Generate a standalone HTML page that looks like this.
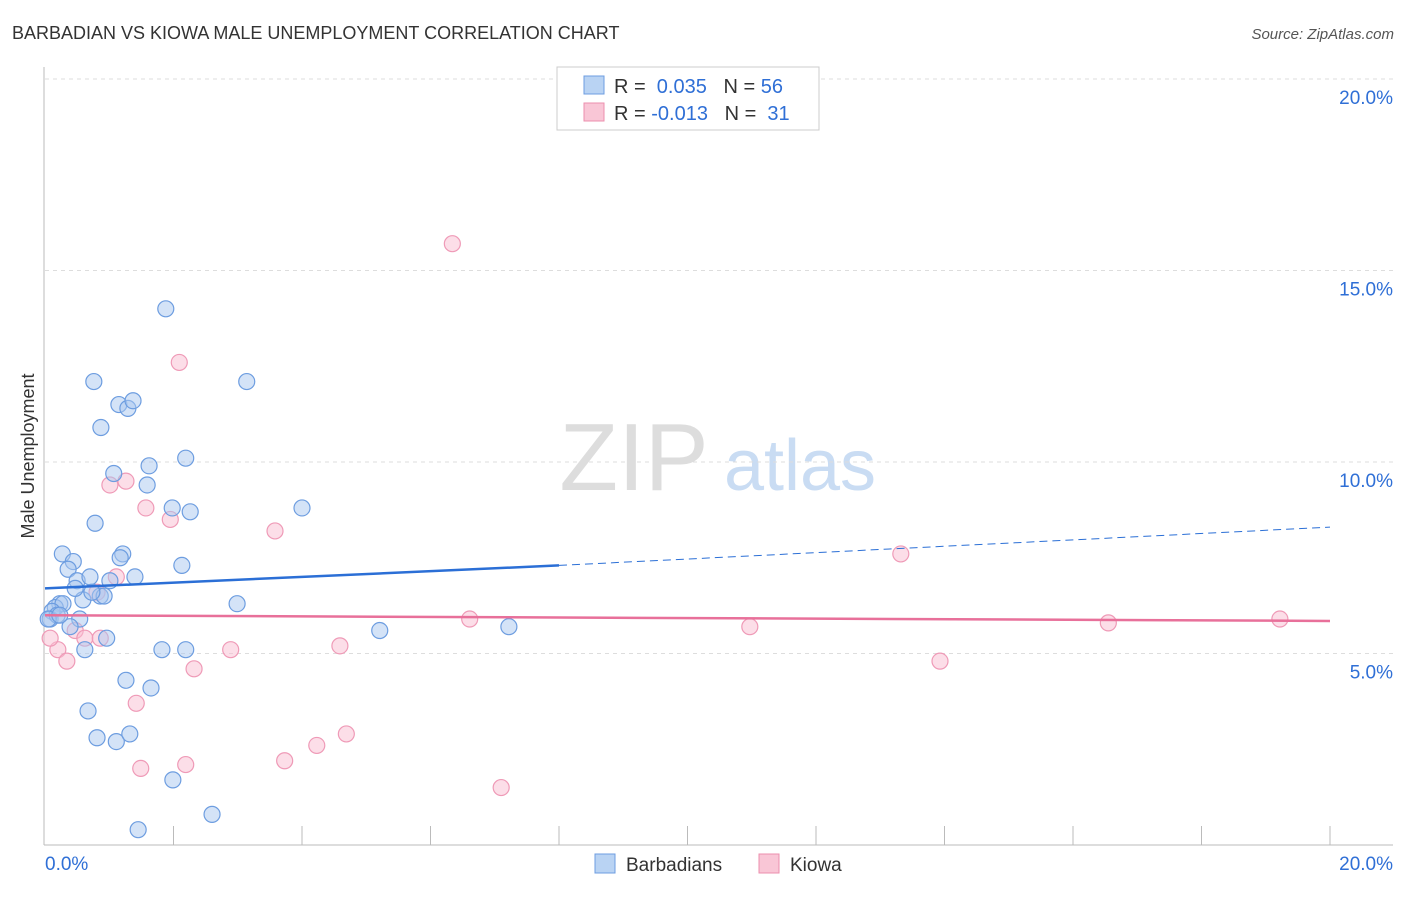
<!DOCTYPE html>
<html><head><meta charset="utf-8"><style>
body{margin:0;background:#fff;font-family:"Liberation Sans",sans-serif}
svg text{font-family:"Liberation Sans",sans-serif}
</style></head><body>
<svg id="chart" width="1406" height="892" xmlns="http://www.w3.org/2000/svg">
<text x="12" y="39" font-size="18" fill="#333">BARBADIAN VS KIOWA MALE UNEMPLOYMENT CORRELATION CHART</text>
<text x="1394" y="39" font-size="15" fill="#555" font-style="italic" text-anchor="end">Source: ZipAtlas.com</text>
<text x="34" y="456" font-size="18" fill="#333" transform="rotate(-90 34 456)" text-anchor="middle">Male Unemployment</text>
<g><text x="634" y="490" font-size="96" fill="#ddd" text-anchor="middle" font-family="Liberation Serif">ZIP</text><text x="800" y="490" font-size="72" fill="#c9dcf3" text-anchor="middle">atlas</text></g>
<g id="grid"></g><g id="marks"></g>
<g>
<rect x="557" y="67" width="262" height="63" fill="#fff" stroke="#ccc"/>
<rect x="584" y="76" width="20" height="18" fill="#b9d3f3" stroke="#6d9de0"/>
<rect x="584" y="103" width="20" height="18" fill="#f9c6d6" stroke="#ec8fae"/>
<text x="614" y="93" font-size="20" fill="#333">R = <tspan fill="#2f6fd6">&#160;0.035</tspan>&#160;&#160;&#160;N = <tspan fill="#2f6fd6">56</tspan></text>
<text x="614" y="120" font-size="20" fill="#333">R = <tspan fill="#2f6fd6">-0.013</tspan>&#160;&#160;&#160;N = <tspan fill="#2f6fd6">&#160;31</tspan></text>
</g>
<g>
<rect x="595" y="854" width="20" height="19" fill="#b9d3f3" stroke="#6d9de0"/>
<text x="626" y="871" font-size="19" fill="#333">Barbadians</text>
<rect x="759" y="854" width="20" height="19" fill="#f9c6d6" stroke="#ec8fae"/>
<text x="790" y="871" font-size="19" fill="#333">Kiowa</text>
</g>
</svg>
<script>
const yTicks=[5,10,15,20];
const xTickLabels=["0.0%","20.0%"];
const blueX=[0.27,0.44,0.36,0.5,0.7,1.01,1.4,1.21,1.17,0.78,0.59,0.47,0.86,0.92,0.23,0.16,0.28,0.11,0.08,0.54,0.96,0.62,1.82,2.19,2.99,2.13,2.26,1.98,1.59,1.62,1.07,2.19,0.87,1.15,1.29,1.37,0.76,1.88,3.14,4.0,5.21,7.22,1.26,1.65,0.67,0.81,1.11,1.32,1.99,2.6,1.45,0.19,0.05,0.39,0.73,0.23];
const blueY=[7.6,7.4,7.2,6.9,7.0,6.9,7.0,7.6,7.5,8.4,6.4,6.7,6.5,6.5,6.3,6.2,6.3,6.1,5.9,5.9,5.4,5.1,5.1,5.1,6.3,7.3,8.7,8.8,9.4,9.9,9.7,10.1,10.9,11.5,11.4,11.6,12.1,14.0,12.1,8.8,5.6,5.7,4.3,4.1,3.5,2.8,2.7,2.9,1.7,0.8,0.4,6.0,5.9,5.7,6.6,6.0];
const pinkX=[6.34,2.09,1.26,1.01,1.57,1.95,3.58,1.11,0.81,0.47,0.62,0.86,0.2,0.34,0.08,2.89,4.59,2.32,1.42,1.49,2.19,3.73,4.23,4.69,7.1,6.61,10.97,13.32,13.93,16.55,19.22];
const pinkY=[15.7,12.6,9.5,9.4,8.8,8.5,8.2,7.0,6.6,5.6,5.4,5.4,5.1,4.8,5.4,5.1,5.2,4.6,3.7,2.0,2.1,2.2,2.6,2.9,1.5,5.9,5.7,7.6,4.8,5.8,5.9];
const blueTrend=[6.7,7.3,8.3];const blueTrendX=[0,8,20];
const pinkTrend=[6.0,5.85];const pinkTrendX=[0,20];
const X=v=>45+v*64.25, Y=v=>845-v*38.3;
const NS="http://www.w3.org/2000/svg";
const grid=document.getElementById('grid'),marks=document.getElementById('marks');
function mk(tag,attrs,parent){const e=document.createElementNS(NS,tag);for(const k in attrs)e.setAttribute(k,attrs[k]);parent.appendChild(e);return e;}
let e;
e=mk('line',{x1:44,y1:67,x2:44,y2:845,stroke:'#bbb'},grid);


e=mk('line',{x1:44,y1:845,x2:1393,y2:845,stroke:'#bbb'},grid);


yTicks.forEach(t=>{
 e=mk('line',{x1:45,x2:1393,y1:Y(t),y2:Y(t),stroke:'#ddd','stroke-dasharray':'4,4'},grid);
 
 
 e=mk('text',{x:1393,y:Y(t)+25,'font-size':19,fill:'#2f6fd6','text-anchor':'end'},grid);
 e.textContent=t.toFixed(1)+'%';
 
 
});
for(let i=1;i<=10;i++){
 e=mk('line',{x1:X(i*2),x2:X(i*2),y1:826,y2:845,stroke:'#bbb'},grid);
 
 
}
e=mk('text',{x:45,y:870,'font-size':19,fill:'#2f6fd6'},grid);e.textContent=xTickLabels[0];


e=mk('text',{x:1393,y:870,'font-size':19,fill:'#2f6fd6','text-anchor':'end'},grid);e.textContent=xTickLabels[1];


pinkX.forEach((x,i)=>{
 e=mk('circle',{cx:X(x),cy:Y(pinkY[i]),r:8,fill:'rgba(249,190,210,0.5)',stroke:'#ef9ab7','stroke-width':1.2},marks);
 
 
});
blueX.forEach((x,i)=>{
 e=mk('circle',{cx:X(x),cy:Y(blueY[i]),r:8,fill:'rgba(170,200,240,0.5)',stroke:'#6d9de0','stroke-width':1.2},marks);
 
 
});
e=mk('line',{x1:X(blueTrendX[0]),y1:Y(blueTrend[0]),x2:X(blueTrendX[1]),y2:Y(blueTrend[1]),stroke:'#2b6fd6','stroke-width':2.5},marks);


e=mk('line',{x1:X(blueTrendX[1]),y1:Y(blueTrend[1]),x2:X(blueTrendX[2]),y2:Y(blueTrend[2]),stroke:'#2b6fd6','stroke-width':1,'stroke-dasharray':'8,5'},marks);


e=mk('line',{x1:X(pinkTrendX[0]),y1:Y(pinkTrend[0]),x2:X(pinkTrendX[1]),y2:Y(pinkTrend[1]),stroke:'#e8709a','stroke-width':2.5},marks);


</script>
</body></html>
